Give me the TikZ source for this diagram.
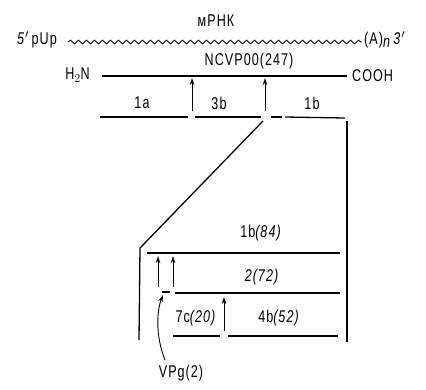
\documentclass[tikz,border=0pt]{standalone}
\usepackage{fontspec}
\setmainfont{Liberation Sans}[FakeStretch=0.74, LetterSpace=6]
\usetikzlibrary{decorations.pathmorphing,arrows.meta}
\begin{document}
\begin{tikzpicture}[x=1pt,y=-1pt,
  every node/.style={inner sep=0pt,font=\fontsize{17}{17}\selectfont},
  seg/.style={line width=1.3pt},
  wave/.style={line width=0.9pt,decorate,decoration={snake,amplitude=1.8pt,segment length=8pt}},
  arr/.style={line width=1pt,-{Stealth[length=7pt,width=4.5pt]}}]
\useasboundingbox (0,0) rectangle (426,389);
% texts
\node (mrna) at (216,21) {мРНК};
\node[anchor=east] (p5) at (57,40) {\textit{5}$'$\,pUp};
\node[anchor=west] (an) at (364,40) {(A)$_{\textit{n}}$\,\textit{3}$'$};
\node (ncvp) at (249,61) {NCVP00(247)};
\node[anchor=east] (h2n) at (90,75) {H$_2$N};
\node[anchor=west] (cooh) at (352,76) {COOH};
\node (l1a) at (142,103) {1a};
\node (l3b) at (219,103) {3b};
\node (l1b) at (312,103) {1b};
\node (l1b84) at (261,233) {1b\textit{(84)}};
\node (l272) at (262,277) {\textit{2(72)}};
\node (l7c) at (196,318) {7c\textit{(20)}};
\node (l4b) at (279,318) {4b\textit{(52)}};
\node (vpg) at (181,373) {VPg(2)};
% coordinates
\coordinate (w1) at (68,42); \coordinate (w2) at (362,42);
\coordinate (n1) at (102,76); \coordinate (n2) at (347,76);
\coordinate (a1b) at (192,111); \coordinate (a1t) at (192,78);
\coordinate (a2b) at (265,111); \coordinate (a2t) at (265,78);
\coordinate (s1a) at (100,117); \coordinate (e1a) at (188,117);
\coordinate (s3b) at (195,117); \coordinate (e3b) at (261,117);
\coordinate (sd) at (271,117); \coordinate (ed) at (282,117);
\coordinate (s1b) at (285,117); \coordinate (e1b) at (345,118);
\coordinate (rt) at (347,121); \coordinate (rb) at (347,342);
\coordinate (dt) at (263,121); \coordinate (db) at (140,248);
\coordinate (lb) at (139,340);
\coordinate (s84) at (147,253); \coordinate (e84) at (340,253);
\coordinate (b1b) at (158,287); \coordinate (b1t) at (158,256);
\coordinate (b2b) at (173,287); \coordinate (b2t) at (173,256);
\coordinate (s72) at (175,293); \coordinate (e72) at (340,293);
\coordinate (sv) at (162,292); \coordinate (ev) at (170,292);
\coordinate (c7b) at (224,331); \coordinate (c7t) at (224,297);
\coordinate (s7c) at (173,336); \coordinate (e7c) at (220,336);
\coordinate (s4b) at (228,336); \coordinate (e4b) at (338,336);
\coordinate (vs) at (165,360); \coordinate (vt) at (163,295);
% drawing
\draw[wave] (w1) -- (w2);
\draw[seg] (n1) -- (n2);
\draw[arr] (a1b) -- (a1t);
\draw[arr] (a2b) -- (a2t);
\draw[seg] (s1a) -- (e1a);
\draw[seg] (s3b) -- (e3b);
\draw[seg] (sd) -- (ed);
\draw[seg] (s1b) -- (e1b);
\draw[seg] (rt) -- (rb);
\draw[seg] (dt) -- (db) -- (lb);
\draw[seg] (s84) -- (e84);
\draw[arr] (b1b) -- (b1t);
\draw[arr] (b2b) -- (b2t);
\draw[seg] (s72) -- (e72);
\draw[seg] (sv) -- (ev);
\draw[arr] (c7b) -- (c7t);
\draw[seg] (s7c) -- (e7c);
\draw[seg] (s4b) -- (e4b);
\draw[line width=0.9pt,-{Stealth[length=7pt,width=4.5pt]}] (vs) .. controls (155,335) and (157,310) .. (vt);
\end{tikzpicture}
\end{document}
